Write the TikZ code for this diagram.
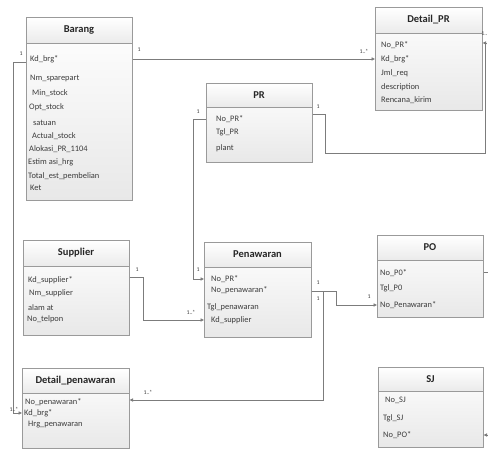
\documentclass[tikz,border=0pt]{standalone}
\usepackage{fontspec}
\setmainfont{Carlito}
\usetikzlibrary{arrows.meta,calc,positioning}

\definecolor{boxline}{HTML}{9A9A9A}
\definecolor{relline}{HTML}{7C7C7C}
\definecolor{txt}{HTML}{3C3C3C}

\tikzset{
  entity/.style={draw=boxline, line width=0.7pt, rectangle, inner sep=0pt,
    anchor=north west, top color=white, bottom color=black!9},
  headfill/.style={top color=white, bottom color=black!8},
  title/.style={font=\fontsize{10.5}{11}\selectfont\bfseries, text=black!85, inner sep=0pt},
  attr/.style={font=\fontsize{8.4}{9}\selectfont, text=txt, anchor=west, inner sep=0pt},
  rel/.style={draw=relline, line width=0.7pt,
    -{Triangle[length=3.4pt,width=3.2pt]}},
  mult/.style={font=\fontsize{5.8}{6}\selectfont, text=txt, inner sep=0pt}
}

% entity box: name, x1, y1, x2, y header line, y2, title
\newcommand\entitybox[7]{%
  \node[entity, minimum width={(#4-#2)*1pt}, minimum height={(#6-#3)*1pt}] (#1) at (#2,#3) {};
  \path[headfill] (#2+0.4,#3+0.4) rectangle (#4-0.4,#5);
  \draw[boxline, line width=0.7pt] (#2,#5) -- (#4,#5);
  \draw[boxline, line width=0.7pt] (#1.north west) rectangle (#1.south east);
  \node[title] (#1-title) at ({(#2+#4)/2},{(#3+#5)/2}) {#7};
}

\begin{document}
\begin{tikzpicture}[x=1pt,y=-1pt]
\useasboundingbox (0,0) rectangle (488,457);
\clip (0,0) rectangle (488,457);
\fill[white] (0,0) rectangle (488,457);

% ---- entities ----
\entitybox{barang}{26}{17}{132}{43}{200}{Barang}
\node[attr] (barang-kd) at (30,59) {Kd\_brg*};
\node[attr] (barang-nm) at (30,78) {Nm\_sparepart};
\node[attr] (barang-min) at (32,93) {Min\_stock};
\node[attr] (barang-opt) at (29,107) {Opt\_stock};
\node[attr] (barang-sat) at (33,123) {satuan};
\node[attr] (barang-act) at (32,136) {Actual\_stock};
\node[attr] (barang-alo) at (29,149) {Alokasi\_PR\_1104};
\node[attr] (barang-est) at (28,162) {Estim asi\_hrg};
\node[attr] (barang-tot) at (28,176) {Total\_est\_pembelian};
\node[attr] (barang-ket) at (30,188) {Ket};

\entitybox{detailpr}{375}{7}{482}{33}{110}{Detail\_PR}
\node[attr] (dpr-no) at (381,45) {No\_PR*};
\node[attr] (dpr-kd) at (381,59) {Kd\_brg*};
\node[attr] (dpr-jml) at (381,73) {Jml\_req};
\node[attr] (dpr-des) at (381,87) {description};
\node[attr] (dpr-ren) at (381,100) {Rencana\_kirim};

\entitybox{pr}{206}{83}{312}{107}{162}{PR}
\node[attr] (pr-no) at (216,119) {No\_PR*};
\node[attr] (pr-tgl) at (216,132) {Tgl\_PR};
\node[attr] (pr-plant) at (216,148) {plant};

\entitybox{sup}{23}{240}{129}{266}{335}{Supplier}
\node[attr] (sup-kd) at (28,280) {Kd\_supplier*};
\node[attr] (sup-nm) at (29,293) {Nm\_supplier};
\node[attr] (sup-al) at (28,308) {alam at};
\node[attr] (sup-tel) at (27,319) {No\_telpon};

\entitybox{pen}{204}{242}{311}{267}{337}{Penawaran}
\node[attr] (pen-nopr) at (211,279) {No\_PR*};
\node[attr] (pen-no) at (211,290) {No\_penawaran*};
\node[attr] (pen-tgl) at (207,307) {Tgl\_penawaran};
\node[attr] (pen-kds) at (211,320) {Kd\_supplier};

\entitybox{po}{377}{235}{483}{260}{317}{PO}
\node[attr] (po-no) at (380,273) {No\_P0*};
\node[attr] (po-tgl) at (380,288) {Tgl\_P0};
\node[attr] (po-nopen) at (380,305) {No\_Penawaran*};

\entitybox{dpw}{22}{368}{129}{393}{448}{Detail\_penawaran}
\node[attr] (dpw-no) at (25,402) {No\_penawaran*};
\node[attr] (dpw-kd) at (24,413) {Kd\_brg*};
\node[attr] (dpw-hrg) at (28,425) {Hrg\_penawaran};

\entitybox{sj}{378}{367}{483}{391}{447}{SJ}
\node[attr] (sj-no) at (385,400) {No\_SJ};
\node[attr] (sj-tgl) at (383,418) {Tgl\_SJ};
\node[attr] (sj-nopo) at (383,435) {No\_PO*};

% ---- relationships ----
\draw[rel] (barang.east |- barang-kd) -- (detailpr.west |- barang-kd);
\draw[rel] ($(barang.north west)+(0,45)$) -- ++(-13,0) |- (dpw.west |- dpw-kd);
\draw[rel] (pr.west |- pr-no) -- ++(-13,0) |- (pen.west |- pen-nopr);
\draw[rel] ($(pr.north east)+(0,31)$) -- ++(13,0) |- ++(160,39)
  |- ($(detailpr.north east)+(0,36)$);
\draw[rel] ($(sup.north east)+(0,37)$) -- ++(14,0) |- (pen.west |- pen-kds);
\draw[rel] ($(pen.north east)+(0,49)$) -- ++(25,0) |- (po.west |- po-nopen);
\draw[rel] ($(pen.north east)+(0,49)$) -- ++(12,0) |- ($(dpw.north east)+(0,32)$);
\draw[rel] ($(po.north east)+(0,37)$) -- ++(12,0) |- (sj.east |- sj-nopo);

% ---- multiplicities ----
\node[mult] (m1) at (139,50) {1};
\node[mult] (m2) at (364,51) {1..*};
\node[mult] (m3) at (21,54) {1};
\node[mult] (m4) at (14,409) {1..*};
\node[mult] (m5) at (198,112) {1};
\node[mult] (m6) at (198,270) {1};
\node[mult] (m7) at (318,107) {1};
\node[mult, anchor=east] (m8) at (487.5,34) {1..};
\node[mult] (m9) at (137,270) {1};
\node[mult] (m10) at (191,312) {1..*};
\node[mult] (m11) at (318,283) {1};
\node[mult] (m12) at (318,299) {1};
\node[mult] (m13) at (369,297) {1};
\node[mult] (m14) at (148,392) {1..*};
\end{tikzpicture}
\end{document}
